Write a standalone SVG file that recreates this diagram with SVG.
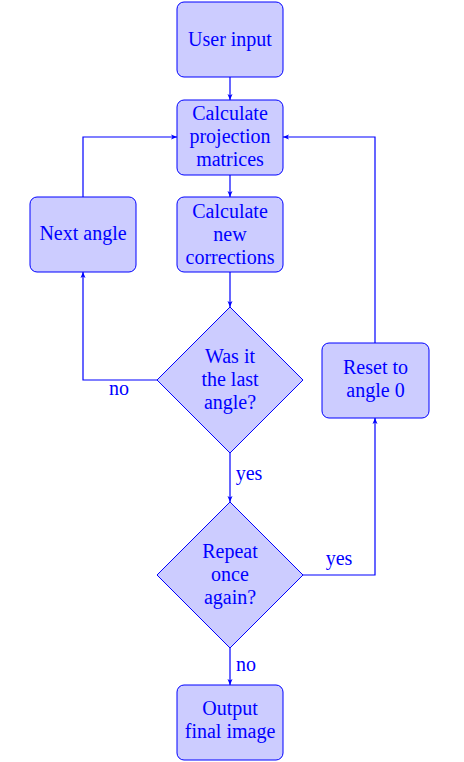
<svg xmlns="http://www.w3.org/2000/svg" width="464" height="762" viewBox="0 0 464 762">
<style>
.box{fill:#ccccff;stroke:#0000ff;stroke-width:1}
.t{font-family:"Liberation Serif","DejaVu Serif",serif;font-size:20px;fill:#0000ff;text-anchor:middle}
.c{fill:none;stroke:#0000ff;stroke-width:1.2;marker-end:url(#ah)}
</style>
<defs>
<marker id="ah" viewBox="0 0 6 6" refX="6" refY="3" markerWidth="6" markerHeight="6" markerUnits="userSpaceOnUse" orient="auto">
<path d="M0,0.5 L6,3 L0,5.5 L1.5,3 Z" fill="#0000ff"/>
</marker>
</defs>
<rect width="464" height="762" fill="#ffffff"/>
<g id="connectors">
<path class="c" d="M230,77 V100"/>
<path class="c" d="M230,175 V197"/>
<path class="c" d="M230,272 V307"/>
<path class="c" d="M157,380 H83 V272"/>
<path class="c" d="M83,197 V137 H177"/>
<path class="c" d="M230,453 V502"/>
<path class="c" d="M303,575 H375 V418"/>
<path class="c" d="M375,343 V137 H283"/>
<path class="c" d="M230,648 V685"/>
<text class="t" x="119" y="395">no</text>
<text class="t" x="249" y="480">yes</text>
<text class="t" x="339" y="565">yes</text>
<text class="t" x="246" y="671">no</text>
</g>
<g id="user-input">
<rect class="box" x="177" y="2" width="106" height="75" rx="7"/>
<text class="t" x="230" y="46">User input</text>
</g>
<g id="calc-proj">
<rect class="box" x="177" y="100" width="106" height="75" rx="7"/>
<text class="t" x="230" y="120">Calculate</text>
<text class="t" x="230" y="143">projection</text>
<text class="t" x="230" y="166">matrices</text>
</g>
<g id="next-angle">
<rect class="box" x="30" y="197" width="106" height="75" rx="7"/>
<text class="t" x="83" y="240">Next angle</text>
</g>
<g id="calc-new">
<rect class="box" x="177" y="197" width="106" height="75" rx="7"/>
<text class="t" x="230" y="218">Calculate</text>
<text class="t" x="230" y="241">new</text>
<text class="t" x="230" y="264">corrections</text>
</g>
<g id="last-angle">
<polygon class="box" points="230,307 303,380 230,453 157,380"/>
<text class="t" x="230" y="363">Was it</text>
<text class="t" x="230" y="386">the last</text>
<text class="t" x="230" y="409">angle?</text>
</g>
<g id="reset">
<rect class="box" x="322" y="343" width="107" height="75" rx="7"/>
<text class="t" x="375.5" y="374">Reset to</text>
<text class="t" x="375.5" y="397">angle 0</text>
</g>
<g id="repeat">
<polygon class="box" points="230,502 303,575 230,648 157,575"/>
<text class="t" x="230" y="558">Repeat</text>
<text class="t" x="230" y="581">once</text>
<text class="t" x="230" y="604">again?</text>
</g>
<g id="output">
<rect class="box" x="177" y="685" width="106" height="75" rx="7"/>
<text class="t" x="230" y="715">Output</text>
<text class="t" x="230" y="738">final image</text>
</g>
</svg>
